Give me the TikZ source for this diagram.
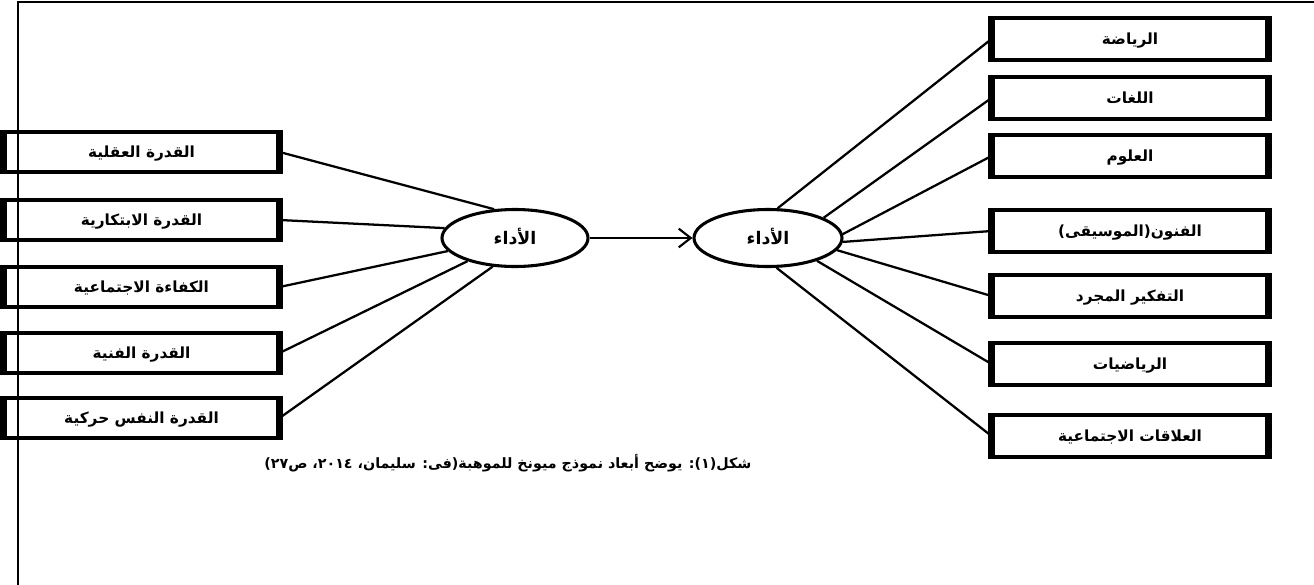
\documentclass[tikz,border=0pt]{standalone}
\usepackage{fontspec}
\usetikzlibrary{arrows.meta,shapes.geometric}
\TeXXeTstate=1
\newfontfamily\arabicfont[Script=Arabic]{DejaVu Sans}
\newcommand{\artext}[1]{{\arabicfont\bfseries\beginR #1\endR}}

\tikzset{
  leftbox/.style={draw, line width=2.3pt, fill=white, minimum width=273*0.75pt,
    minimum height=40*0.75pt, inner sep=0pt, text height=9pt, text depth=1pt,
    font=\fontsize{11.5}{12}\selectfont},
  rightbox/.style={leftbox, minimum width=274*0.75pt, minimum height=42*0.75pt},
  hub/.style={draw, ellipse, line width=2.3pt, fill=white, minimum width=146*0.75pt,
    minimum height=57*0.75pt, inner sep=0pt, text height=10pt, text depth=1pt,
    font=\fontsize{13}{14}\selectfont},
  link/.style={line width=1.7pt},
  side/.style={line width=4.5pt},
  frame/.style={line width=1.6pt}
}

\begin{document}
\begin{tikzpicture}[x=0.75pt, y=-0.75pt]
\useasboundingbox (0,0) rectangle (1314,585);

% factors on the left
\node[leftbox] (l1) at (141.5,152) {\artext{القدرة العقلية}};
\node[leftbox] (l2) at (141.5,220) {\artext{القدرة الابتكارية}};
\node[leftbox] (l3) at (141.5,287) {\artext{الكفاءة الاجتماعية}};
\node[leftbox] (l4) at (141.5,353) {\artext{القدرة الفنية}};
\node[leftbox] (l5) at (141.5,418) {\artext{القدرة النفس حركية}};

% domains on the right
\node[rightbox] (r1) at (1130,39) {\artext{الرياضة}};
\node[rightbox] (r2) at (1130,98) {\artext{اللغات}};
\node[rightbox] (r3) at (1130,156) {\artext{العلوم}};
\node[rightbox] (r4) at (1130,231) {\artext{الفنون(الموسيقى)}};
\node[rightbox] (r5) at (1130,296) {\artext{التفكير المجرد}};
\node[rightbox] (r6) at (1130,364) {\artext{الرياضيات}};
\node[rightbox] (r7) at (1130,436) {\artext{العلاقات الاجتماعية}};

% heavier vertical sides of the boxes
\foreach \b in {l1,l2,l3,l4,l5,r1,r2,r3,r4,r5,r6,r7}{
  \draw[side] (\b.north west) -- (\b.south west);
  \draw[side] (\b.north east) -- (\b.south east);
}

% page frame, drawn over the boxes
\draw[frame] (18,585) -- (18,2) -- (1314,2);

% the two performance hubs
\node[hub] (ha) at (515,238) {\artext{الأداء}};
\node[hub, minimum width=148*0.75pt] (hb) at (768,238) {\artext{الأداء}};

% links into the first hub
\draw[link] (l1.east) -- (ha.126);
\draw[link] (l2.east) -- (ha.172);
\draw[link] (l3.east) -- (ha.191);
\draw[link] (l4.east) -- (ha.206);
\draw[link] (l5.east) -- (ha.232);

% hub to hub
\draw[link, -{Straight Barb[length=9pt, width=14pt, line width=1.6pt]}] (ha.east) -- (hb.west);

% links out of the second hub
\draw[link] (hb.72) -- (r1.west);
\draw[link] (hb.20) -- (r2.west);
\draw[link] (hb.3) -- (r3.west);
\draw[link] (hb.-3) -- (r4.west);
\draw[link] (hb.-10) -- (r5.west);
\draw[link] (hb.-25) -- (r6.west);
\draw[link] (hb.-74) -- (r7.west);

% caption
\node[font=\fontsize{10.7}{12}\selectfont] (cap) at (508,463)
  {\artext{شكل(١): يوضح أبعاد نموذج ميونخ للموهبة(فى: سليمان، ٢٠١٤، ص٢٧)}};
\end{tikzpicture}
\end{document}
